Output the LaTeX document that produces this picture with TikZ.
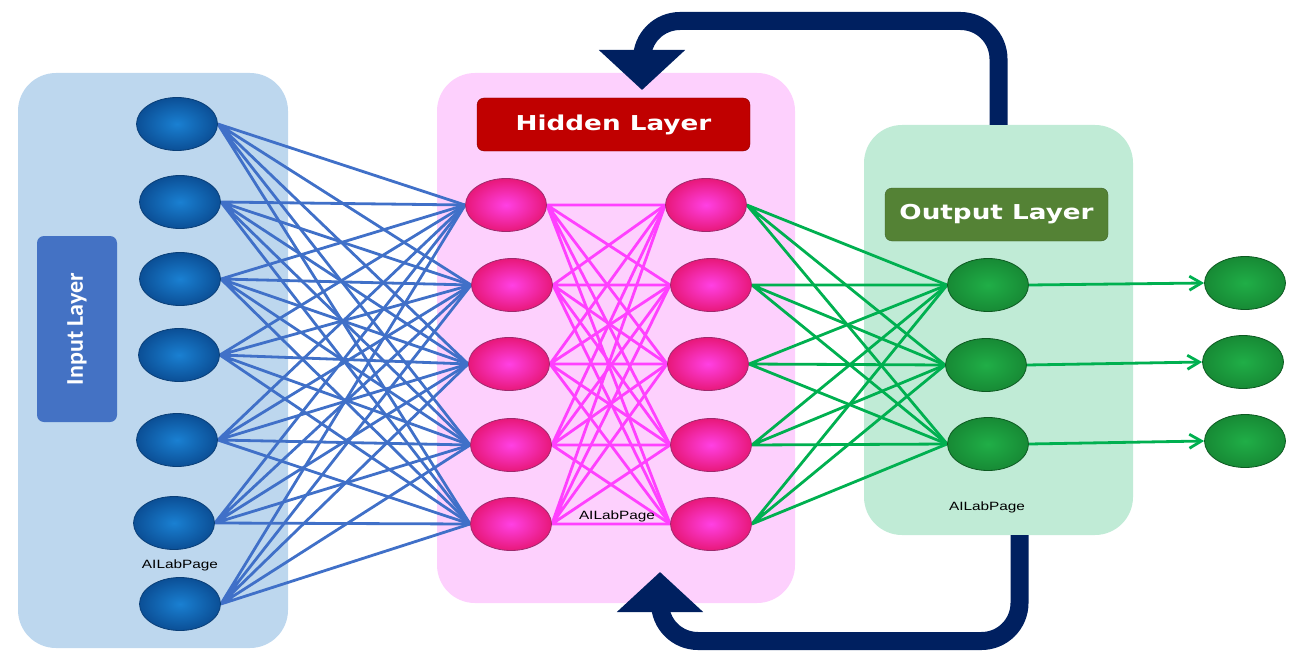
\documentclass[tikz,border=0pt]{standalone}
\usepackage{fontspec}
\usepackage{tikz}
\usetikzlibrary{shapes,arrows,arrows.meta,shadows,positioning}
\usetikzlibrary{backgrounds}
\newfontfamily\titlefont{DejaVu Sans}[FakeStretch=1.28]
\newfontfamily\inputfont{Carlito}
\newfontfamily\markfont{Liberation Sans}[FakeStretch=1.28]
\definecolor{ailab-navy}{HTML}{002060}
\definecolor{ailab-in-panel}{HTML}{BDD7EE}
\definecolor{ailab-hid-panel}{HTML}{FDD0FD}
\definecolor{ailab-out-panel}{HTML}{C0EBD6}
\definecolor{ailab-in-box}{HTML}{4472C4}
\definecolor{ailab-hid-box}{HTML}{C00000}
\definecolor{ailab-out-box}{HTML}{548235}
\definecolor{ailab-blue-dark}{HTML}{0B4F96}
\definecolor{ailab-blue-light}{HTML}{1A80D2}
\definecolor{ailab-blue-edge}{HTML}{0A3F78}
\definecolor{ailab-pink-dark}{HTML}{E8187A}
\definecolor{ailab-pink-light}{HTML}{FF40E4}
\definecolor{ailab-pink-edge}{HTML}{9E2A6E}
\definecolor{ailab-green-dark}{HTML}{178A35}
\definecolor{ailab-green-light}{HTML}{20AE47}
\definecolor{ailab-green-edge}{HTML}{0E5A22}
\definecolor{ailab-blue-link}{HTML}{4070C8}
\definecolor{ailab-pink-link}{HTML}{FF40FF}
\definecolor{ailab-green-link}{HTML}{00B050}

\begin{document}
\begin{tikzpicture}[x=1pt, y=-1pt,
  panel/.style={rounded corners=38pt, inner sep=0pt},
  layer-box/.style={rounded corners=7pt, inner sep=0pt, text=white},
  neuron/.style={ellipse, minimum width=81pt, minimum height=53pt, inner sep=0pt, line width=0.8pt},
  in-neuron/.style={neuron, draw=ailab-blue-edge, inner color=ailab-blue-light, outer color=ailab-blue-dark},
  hid-neuron/.style={neuron, draw=ailab-pink-edge, inner color=ailab-pink-light, outer color=ailab-pink-dark},
  out-neuron/.style={neuron, draw=ailab-green-edge, inner color=ailab-green-light, outer color=ailab-green-dark},
  in-link/.style={line width=2.8pt, color=ailab-blue-link},
  hid-link/.style={line width=2.8pt, color=ailab-pink-link},
  out-link/.style={line width=2.8pt, color=ailab-green-link},
  loop-arrow/.style={line width=18pt, color=ailab-navy, rounded corners=38pt, -{Triangle[length=40pt,width=84pt]}},
  watermark/.style={font=\markfont\fontsize{12}{14}\selectfont, inner sep=0pt}]
\useasboundingbox (0,0) rectangle (1300,650);

\begin{scope}[on background layer]
\node[panel, fill=ailab-in-panel, minimum width=270pt, minimum height=575pt] (in-panel) at (153,360.5) {};
\node[panel, fill=ailab-hid-panel, minimum width=358pt, minimum height=530pt] (hid-panel) at (616,338) {};
\node[panel, fill=ailab-out-panel, minimum width=269pt, minimum height=410pt] (out-panel) at (998.5,330) {};
\end{scope}

\node[layer-box, fill=ailab-in-box, minimum width=80pt, minimum height=186pt] (in-title) at (77,329) {};
\node[text=white, rotate=90, font=\inputfont\bfseries\fontsize{24}{28}\selectfont] at (in-title.center) {Input Layer};
\node[layer-box, fill=ailab-hid-box, draw=ailab-hid-box!70!black, minimum width=273pt, minimum height=53pt, font=\titlefont\bfseries\fontsize{20.5}{24}\selectfont] (hid-title) at (613.5,124.5) {Hidden Layer};
\node[layer-box, fill=ailab-out-box, draw=ailab-out-box!75!black, minimum width=223pt, minimum height=53pt, font=\titlefont\bfseries\fontsize{20.5}{24}\selectfont] (out-title) at (996.5,214.5) {Output Layer};

\node[in-neuron] (in1) at (177,124) {};
\node[in-neuron] (in2) at (180,202) {};
\node[in-neuron] (in3) at (180,279) {};
\node[in-neuron] (in4) at (179,355) {};
\node[in-neuron] (in5) at (177,440) {};
\node[in-neuron] (in6) at (174,523) {};
\node[in-neuron] (in7) at (180,604) {};

\node[hid-neuron] (ha1) at (506,205) {};
\node[hid-neuron] (ha2) at (512,285) {};
\node[hid-neuron] (ha3) at (509,364) {};
\node[hid-neuron] (ha4) at (511,445) {};
\node[hid-neuron] (ha5) at (511,524) {};
\node[hid-neuron] (hb1) at (706,205) {};
\node[hid-neuron] (hb2) at (711,285) {};
\node[hid-neuron] (hb3) at (708,364) {};
\node[hid-neuron] (hb4) at (711,445) {};
\node[hid-neuron] (hb5) at (711,524) {};

\node[out-neuron] (o1) at (988,285) {};
\node[out-neuron] (o2) at (986,365) {};
\node[out-neuron] (o3) at (988,444) {};
\node[out-neuron] (f1) at (1245,283) {};
\node[out-neuron] (f2) at (1243,362) {};
\node[out-neuron] (f3) at (1245,441) {};

\begin{scope}[on background layer]
\draw[in-link] (in1.east) -- (ha1.west) (in1.east) -- (ha2.west) (in1.east) -- (ha3.west) (in1.east) -- (ha4.west) (in1.east) -- (ha5.west);
\draw[in-link] (in2.east) -- (ha1.west) (in2.east) -- (ha2.west) (in2.east) -- (ha3.west) (in2.east) -- (ha4.west) (in2.east) -- (ha5.west);
\draw[in-link] (in3.east) -- (ha1.west) (in3.east) -- (ha2.west) (in3.east) -- (ha3.west) (in3.east) -- (ha4.west) (in3.east) -- (ha5.west);
\draw[in-link] (in4.east) -- (ha1.west) (in4.east) -- (ha2.west) (in4.east) -- (ha3.west) (in4.east) -- (ha4.west) (in4.east) -- (ha5.west);
\draw[in-link] (in5.east) -- (ha1.west) (in5.east) -- (ha2.west) (in5.east) -- (ha3.west) (in5.east) -- (ha4.west) (in5.east) -- (ha5.west);
\draw[in-link] (in6.east) -- (ha1.west) (in6.east) -- (ha2.west) (in6.east) -- (ha3.west) (in6.east) -- (ha4.west) (in6.east) -- (ha5.west);
\draw[in-link] (in7.east) -- (ha1.west) (in7.east) -- (ha2.west) (in7.east) -- (ha3.west) (in7.east) -- (ha4.west) (in7.east) -- (ha5.west);
\draw[hid-link] (ha1.east) -- (hb1.west) (ha1.east) -- (hb2.west) (ha1.east) -- (hb3.west) (ha1.east) -- (hb4.west) (ha1.east) -- (hb5.west);
\draw[hid-link] (ha2.east) -- (hb1.west) (ha2.east) -- (hb2.west) (ha2.east) -- (hb3.west) (ha2.east) -- (hb4.west) (ha2.east) -- (hb5.west);
\draw[hid-link] (ha3.east) -- (hb1.west) (ha3.east) -- (hb2.west) (ha3.east) -- (hb3.west) (ha3.east) -- (hb4.west) (ha3.east) -- (hb5.west);
\draw[hid-link] (ha4.east) -- (hb1.west) (ha4.east) -- (hb2.west) (ha4.east) -- (hb3.west) (ha4.east) -- (hb4.west) (ha4.east) -- (hb5.west);
\draw[hid-link] (ha5.east) -- (hb1.west) (ha5.east) -- (hb2.west) (ha5.east) -- (hb3.west) (ha5.east) -- (hb4.west) (ha5.east) -- (hb5.west);
\draw[out-link] (hb1.east) -- (o1.west) (hb1.east) -- (o2.west) (hb1.east) -- (o3.west);
\draw[out-link] (hb2.east) -- (o1.west) (hb2.east) -- (o2.west) (hb2.east) -- (o3.west);
\draw[out-link] (hb3.east) -- (o1.west) (hb3.east) -- (o2.west) (hb3.east) -- (o3.west);
\draw[out-link] (hb4.east) -- (o1.west) (hb4.east) -- (o2.west) (hb4.east) -- (o3.west);
\draw[out-link] (hb5.east) -- (o1.west) (hb5.east) -- (o2.west) (hb5.east) -- (o3.west);
\end{scope}
\draw[out-link, -{Straight Barb[length=12pt,width=14pt]}] (o1.east) -- (f1.west);
\draw[out-link, -{Straight Barb[length=12pt,width=14pt]}] (o2.east) -- (f2.west);
\draw[out-link, -{Straight Barb[length=12pt,width=14pt]}] (o3.east) -- (f3.west);

\node[watermark] (mark-in) at (180,565) {AILabPage};
\node[watermark] (mark-hid) at (617,516) {AILabPage};
\node[watermark] (mark-out) at (987,507) {AILabPage};

\coordinate (top-turn) at (642,21);
\coordinate (top-in) at (642,90);
\coordinate (bot-turn) at (660,641);
\coordinate (bot-in) at (660,572);
\draw[loop-arrow] (out-panel.north) |- (top-turn) -- (top-in);
\draw[loop-arrow] ([xshift=21pt]out-panel.south) |- (bot-turn) -- (bot-in);
\end{tikzpicture}
\end{document}
